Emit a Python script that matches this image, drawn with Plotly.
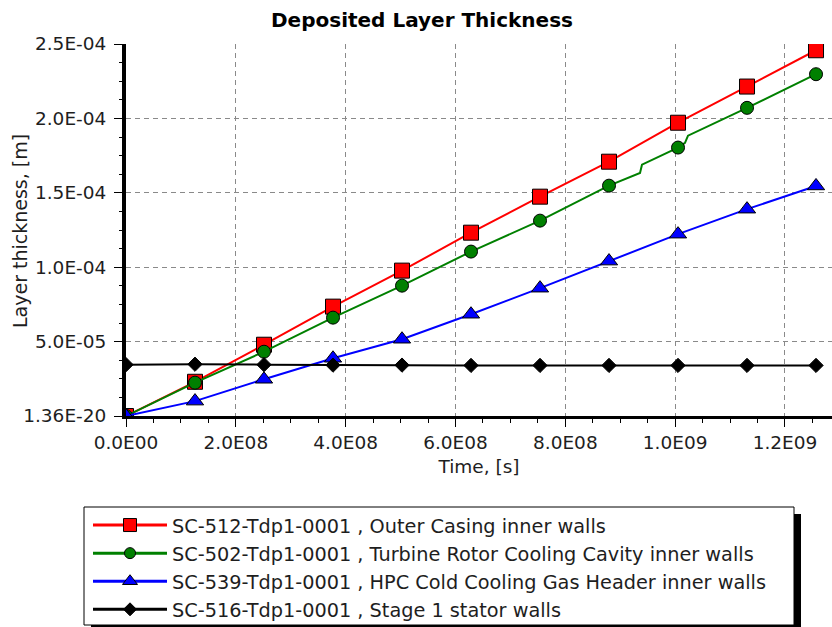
import plotly.graph_objects as go

# ---- data ----
time_s = [0, 1.2565e8, 2.513e8, 3.7695e8, 5.026e8, 6.2825e8, 7.539e8,
          8.7955e8, 1.0052e9, 1.13085e9, 1.2565e9]

red_vals = [1.36e-20, 23.0e-6, 47.9e-6, 73.5e-6, 97.7e-6, 123.2e-6, 147.4e-6,
            170.9e-6, 197.1e-6, 221.4e-6, 245.8e-6]

green_time = [0, 1.2565e8, 2.513e8, 3.7695e8, 5.026e8, 6.2825e8, 7.539e8,
              8.7955e8, 9.360e8, 9.396e8, 1.0052e9, 1.0179e9, 1.0234e9,
              1.13085e9, 1.2565e9]
green_vals = [1.36e-20, 22.4e-6, 43.2e-6, 66.1e-6, 87.6e-6, 110.5e-6, 131.3e-6,
              154.8e-6, 163.3e-6, 168.9e-6, 180.4e-6, 183.5e-6, 188.4e-6,
              207.1e-6, 229.7e-6]
green_marker_time = time_s
green_marker_vals = [1.36e-20, 22.4e-6, 43.2e-6, 66.1e-6, 87.6e-6, 110.5e-6,
                     131.3e-6, 154.8e-6, 180.4e-6, 207.1e-6, 229.7e-6]

blue_vals = [1.36e-20, 10.0e-6, 24.7e-6, 38.8e-6, 51.6e-6, 68.4e-6, 85.9e-6,
             104.1e-6, 122.2e-6, 139.0e-6, 154.6e-6]

black_vals = [34.5e-6, 34.8e-6, 34.5e-6, 34.2e-6, 34.2e-6, 34.0e-6, 34.0e-6,
              34.0e-6, 34.0e-6, 34.0e-6, 34.0e-6]

series_names = [
    "SC-512-Tdp1-0001 , Outer Casing inner walls",
    "SC-502-Tdp1-0001 , Turbine Rotor Cooling Cavity inner walls",
    "SC-539-Tdp1-0001 , HPC Cold Cooling Gas Header inner walls",
    "SC-516-Tdp1-0001 , Stage 1 stator walls",
]

x_tickvals = [0, 2e8, 4e8, 6e8, 8e8, 1.0e9, 1.2e9]
x_ticktext = ["0.0E00", "2.0E08", "4.0E08", "6.0E08", "8.0E08", "1.0E09", "1.2E09"]
y_tickvals = [0, 5e-5, 1.0e-4, 1.5e-4, 2.0e-4, 2.5e-4]
y_ticktext = ["1.36E-20", "5.0E-05", "1.0E-04", "1.5E-04", "2.0E-04", "2.5E-04"]

FONT = "DejaVu Sans"
W, H = 832, 627
L, R, T, B = 126, 0, 44, 211
PW, PH = W - L - R, H - T - B


def px_to_paper_x(px):
    return (px - L) / PW


def px_to_paper_y(py):
    return (H - B - py) / PH


fig = go.Figure()

outline = dict(color="black", width=1)

# red
fig.add_trace(go.Scatter(x=time_s, y=red_vals, mode="lines+markers",
                         line=dict(color="#ff0000", width=2),
                         marker=dict(symbol="square", size=15, color="#ff0000", line=outline),
                         showlegend=False))
# green line (with steps) + markers
fig.add_trace(go.Scatter(x=green_time, y=green_vals, mode="lines",
                         line=dict(color="#008000", width=2), showlegend=False))
fig.add_trace(go.Scatter(x=green_marker_time, y=green_marker_vals, mode="markers",
                         marker=dict(symbol="circle", size=13, color="#008000", line=outline),
                         showlegend=False))
# blue
fig.add_trace(go.Scatter(x=time_s, y=blue_vals, mode="lines+markers",
                         line=dict(color="#0000ff", width=2),
                         marker=dict(symbol="triangle-up", size=15, color="#0000ff", line=outline),
                         showlegend=False))
# black
fig.add_trace(go.Scatter(x=time_s, y=black_vals, mode="lines+markers",
                         line=dict(color="#000000", width=2),
                         marker=dict(symbol="diamond", size=11, color="#000000", line=outline),
                         showlegend=False))

# legend-only traces
leg_specs = [("#ff0000", "square", 13), ("#008000", "circle", 11),
             ("#0000ff", "triangle-up", 13), ("#000000", "diamond", 10)]
for name, (col, sym, sz) in zip(series_names, leg_specs):
    fig.add_trace(go.Scatter(x=[None], y=[None], mode="lines+markers", name=name,
                             line=dict(color=col, width=3),
                             marker=dict(symbol=sym, size=sz, color=col, line=outline),
                             showlegend=True))

axis_common = dict(
    showline=True, linecolor="black",
    showgrid=True, gridcolor="#8a8a8a", gridwidth=1, griddash="5px,4px",
    zeroline=False, ticks="outside", ticklen=8, tickcolor="black", tickwidth=1,
    tickfont=dict(family=FONT, size=18.5, color="#1e1e1e"),
    tickmode="array",
)

fig.update_xaxes(**axis_common, linewidth=3, range=[0, 1.2856e9],
                 tickvals=x_tickvals, ticktext=x_ticktext,
                 minor=dict(tickmode="linear", tick0=0, dtick=5e7, ticks="outside",
                            ticklen=4, tickcolor="black", showgrid=False),
                 title=dict(text="Time, [s]", font=dict(family=FONT, size=18.5, color="#1e1e1e"),
                            standoff=8))
fig.update_yaxes(**axis_common, linewidth=4, range=[0, 2.5e-4],
                 tickvals=y_tickvals, ticktext=y_ticktext, ticklabelstandoff=4,
                 minor=dict(tickmode="linear", tick0=0, dtick=1.25e-5, ticks="outside",
                            ticklen=3, tickcolor="black", showgrid=False))

# y-axis title as rotated annotation
fig.add_annotation(text="Layer thickness, [m]", xref="paper", yref="paper",
                   x=px_to_paper_x(20), y=px_to_paper_y(231), xanchor="center",
                   yanchor="middle", textangle=-90, showarrow=False,
                   font=dict(family=FONT, size=19, color="#1e1e1e"))

# legend frame with drop shadow
lx0, lx1, ly0, ly1 = 84, 794, 507, 625
fig.add_shape(type="rect", xref="paper", yref="paper", layer="above",
              x0=px_to_paper_x(lx0 + 7), x1=px_to_paper_x(lx1 + 7),
              y0=px_to_paper_y(ly0 + 7), y1=px_to_paper_y(ly1 + 7),
              fillcolor="black", line=dict(width=0))
fig.add_shape(type="rect", xref="paper", yref="paper", layer="above",
              x0=px_to_paper_x(lx0), x1=px_to_paper_x(lx1),
              y0=px_to_paper_y(ly0), y1=px_to_paper_y(ly1),
              fillcolor="white", line=dict(color="black", width=1))

fig.update_layout(
    width=W, height=H,
    margin=dict(l=L, r=R, t=T, b=B, autoexpand=False),
    paper_bgcolor="white", plot_bgcolor="white",
    font=dict(family=FONT, color="#1e1e1e"),
    title=dict(text="<b>Deposited Layer Thickness</b>", x=422 / W, xref="container",
               xanchor="center", y=1 - 20 / H, yanchor="middle",
               font=dict(family=FONT, size=20, color="black")),
    showlegend=True,
    legend=dict(x=px_to_paper_x(88), y=px_to_paper_y(506), xanchor="left", yanchor="top",
                bgcolor="rgba(0,0,0,0)", borderwidth=0, itemwidth=74,
                font=dict(family=FONT, size=19.3, color="#1e1e1e"),
                traceorder="normal", itemclick=False),
)

fig.write_html("out.html", config={"displayModeBar": False, "staticPlot": True},
               post_script="document.body.style.margin='0px';")
